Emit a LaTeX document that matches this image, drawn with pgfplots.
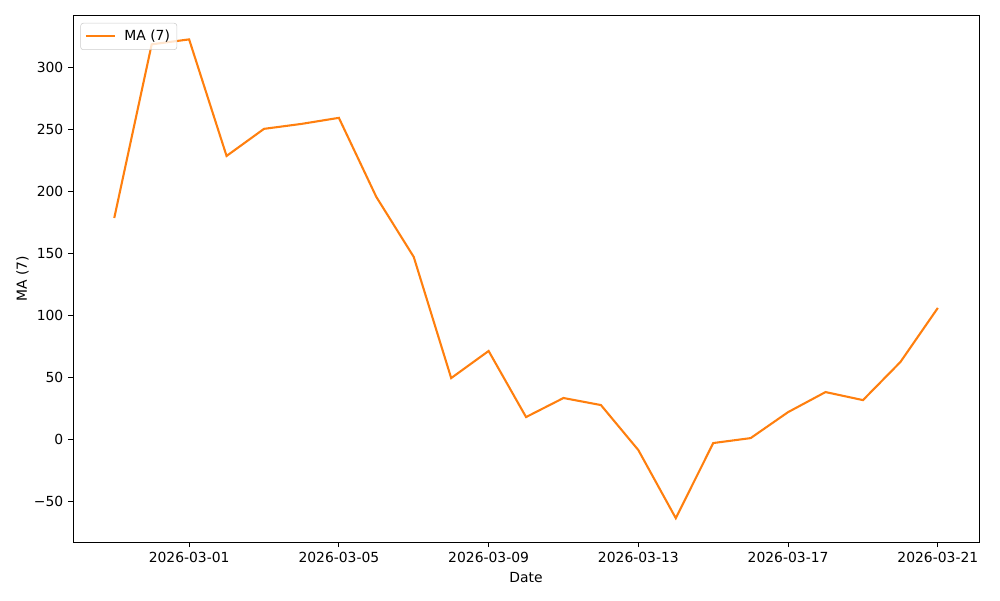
\documentclass[border=0pt]{standalone}
\usepackage{pgfplots}
\pgfplotsset{compat=1.18}
\usepackage{fontspec}
\setmainfont{DejaVu Sans}
\definecolor{mplorange}{HTML}{FF7F0E}
\begin{document}
\begin{tikzpicture}
\begin{axis}[
    scale only axis,
    width=652pt, height=379.4pt,
    xmin=-3.1, xmax=21.1,
    ymin=-83.3, ymax=342.7,
    xtick={0,4,8,12,16,20},
    xticklabels={2026-03-01,2026-03-05,2026-03-09,2026-03-13,2026-03-17,2026-03-21},
    ytick={-50,0,50,100,150,200,250,300},
    yticklabels={−50,0,50,100,150,200,250,300},
    xtick pos=lower, ytick pos=left,
    tick align=outside,
    major tick length=3.5pt,
    tick style={black, line width=0.6pt},
    axis line style={line width=0.6pt},
    tick label style={font=\fontsize{10}{12}\selectfont},
    label style={font=\fontsize{10}{12}\selectfont},
    xlabel={Date}, ylabel={MA (7)},
    ylabel style={yshift=-3pt},
    legend style={at={(0.008,0.985)}, anchor=north west, draw=black!20,
        fill=white, fill opacity=0.8, text opacity=1,
        rounded corners=2pt, font=\fontsize{10}{12}\selectfont,
        inner xsep=3pt, inner ysep=3pt},
    legend image code/.code={\draw[#1] (0pt,0pt) -- (21pt,0pt); \path (25pt,0pt);},
    legend cell align=left,
    clip=false,
]
\addplot[mplorange, line width=1.5pt, mark=none] coordinates {
 (-2,178.7) (-1,319) (0,323) (1,228.8) (2,250.7) (3,254.7) (4,259.6)
 (5,195.7) (6,147.2) (7,49.3) (8,71.2) (9,17.8) (10,33.2) (11,27.5)
 (12,-8.9) (13,-63.9) (14,-3.2) (15,0.8) (16,21.8) (17,38.0) (18,31.5)
 (19,62.3) (20,106)
};
\addlegendentry{MA (7)}
\coordinate (bl) at (rel axis cs:0,0);
\coordinate (tr) at (rel axis cs:1,1);
\end{axis}
\path ([xshift=-52.6pt,yshift=-41.8pt]bl) rectangle ([xshift=15.1pt,yshift=10.8pt]tr);
\end{tikzpicture}
\end{document}
